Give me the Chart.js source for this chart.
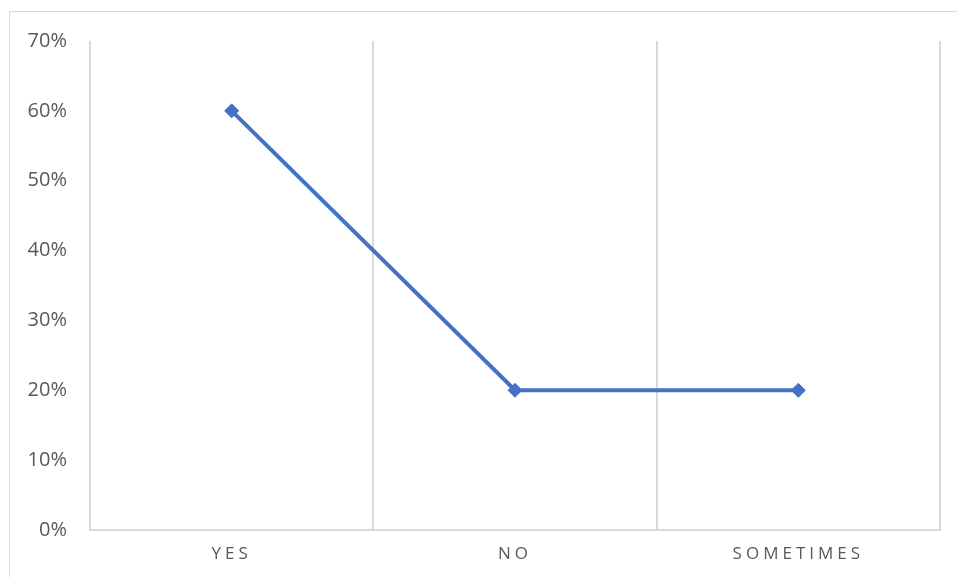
<!DOCTYPE html>
<html>
<head>
<meta charset="utf-8">
<script src="https://cdn.jsdelivr.net/npm/chart.js@4.4.1/dist/chart.umd.min.js"></script>
<style>
  html, body { margin: 0; padding: 0; background: #fff; overflow: hidden; }
  #frame { position: absolute; left: 9px; top: 11px; width: 980px; height: 600px; border: 1px solid #d9d9d9; box-sizing: border-box; }
  #wrap { position: absolute; left: 0; top: 0; width: 957px; height: 577px; }
</style>
</head>
<body>
<div id="frame"></div>
<div id="wrap"><canvas id="lineChart"></canvas></div>
<script>
// chart data
const categories = ['YES', 'NO', 'SOMETIMES'];
const shares = [60, 20, 20];
const yTicks = [0, 10, 20, 30, 40, 50, 60, 70];

const textColor = '#595959';
const gridColor = '#d9d9d9';

// letter-spaced category labels, like the original
const spacedLabels = {
    id: 'spacedLabels',
    afterLayout(chart) {
        const sx = chart.scales.x;
        if (sx._spaced) return;
        const orig = sx.drawLabels;
        sx.drawLabels = function (area) {
            const c = this.ctx;
            c.save();
            c.letterSpacing = '4px';
            orig.call(this, area);
            c.restore();
        };
        sx._spaced = true;
    }
};

const ctx = document.getElementById('lineChart').getContext('2d');
const chart = new Chart(ctx, {
    type: 'line',
    data: {
        labels: categories,
        datasets: [{
            data: shares,
            borderColor: '#4472C4',
            backgroundColor: '#4472C4',
            borderWidth: 4,
            pointStyle: 'rectRot',
            pointRadius: 7,
            pointBorderWidth: 1,
            pointBackgroundColor: '#4472C4',
            pointBorderColor: '#4472C4',
            tension: 0,
            fill: false
        }]
    },
    options: {
        responsive: true,
        maintainAspectRatio: false,
        animation: false,
        layout: { padding: { left: 0, right: 17, top: 41, bottom: 0 } },
        plugins: {
            legend: { display: false },
            tooltip: { enabled: false }
        },
        scales: {
            x: {
                offset: true,
                afterFit: s => { s.height = 47; },
                grid: { offset: true, color: gridColor, lineWidth: 2, drawTicks: false },
                border: { color: gridColor, width: 2 },
                ticks: { color: textColor, padding: 14, font: { family: 'Open Sans', size: 17 } }
            },
            y: {
                min: 0,
                max: 70,
                afterFit: s => { s.width = 90; },
                afterBuildTicks: s => { s.ticks = yTicks.map(v => ({ value: v })); },
                grid: { display: false, drawTicks: false },
                border: { display: false },
                ticks: {
                    color: textColor,
                    padding: 23,
                    font: { family: 'Open Sans', size: 20 },
                    callback: v => v + '%'
                }
            }
        }
    },
    plugins: [spacedLabels]
});
</script>
</body>
</html>
